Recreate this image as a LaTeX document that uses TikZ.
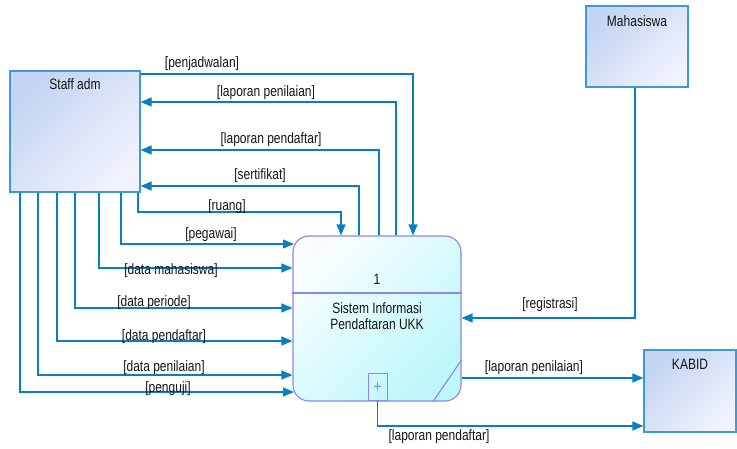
\documentclass[tikz,border=0pt]{standalone}
\usepackage{fontspec}
\setmainfont{Liberation Sans}[FakeStretch=0.8]
\usetikzlibrary{arrows.meta}
\definecolor{flowc}{HTML}{0A7EC2}
\definecolor{entborder}{HTML}{3C9AD6}
\definecolor{entA}{HTML}{C4D4F2}
\definecolor{entB}{HTML}{F0F2FD}
\definecolor{procborder}{HTML}{8888F0}
\definecolor{procA}{HTML}{F8FEFF}
\definecolor{procB}{HTML}{BDF6FB}
\definecolor{txt}{HTML}{141414}
\tikzset{
  entity/.style={draw=entborder, line width=1.2pt, top color=entA, bottom color=entB, shading angle=45, inner sep=0pt},
  proc/.style={draw=procborder, line width=1.1pt, rounded corners=16pt, top color=procA, bottom color=procB, shading angle=45, inner sep=0pt, minimum width=168pt, minimum height=165pt},
  procline/.style={draw=procborder, line width=1.1pt},
  flow/.style={draw=flowc, line width=1.2pt, -{Triangle[length=11pt,width=9pt]}},
  lbl/.style={inner sep=0pt, font=\fontsize{15}{17}\selectfont, text=txt},
  ttl/.style={inner sep=0pt, font=\fontsize{15}{17}\selectfont, text=txt}
}
\begin{document}
\begin{tikzpicture}[x=1pt,y=-1pt]
\useasboundingbox (0,0) rectangle (737,449);
% entities
\node[entity, minimum width=130pt, minimum height=121pt] (staff) at (75,131.5) {};
\node[ttl] (staffT) at (75,84) {Staff adm};
\node[entity, minimum width=102pt, minimum height=81pt] (mhs) at (637,46.5) {};
\node[ttl] (mhsT) at (637,21) {Mahasiswa};
\node[entity, minimum width=92pt, minimum height=82pt] (kabid) at (690,391) {};
\node[ttl] (kabidT) at (690,364) {KABID};
% process
\node[proc] (proc) at (377,318.5) {};
\draw[procline] (proc.west |- 0,293) -- (proc.east |- 0,293);
\draw[procline] (proc.east |- 0,360) -- (433,0 |- proc.south);
\node[ttl] (pnum) at (377,279) {1};
\node[ttl, align=center] (ptxt) at (377,316.5) {Sistem Informasi\\[-1pt]Pendaftaran UKK};
\node[draw=procborder, line width=1pt, minimum width=19pt, minimum height=27pt, inner sep=0pt, anchor=south] (plus) at (377.5,401) {};
\node[inner sep=0pt, text=procborder, font=\fontsize{17}{17}\selectfont] (plusT) at (377.5,388) {+};
% flows at top
\draw[flow] (staff.east |- 0,74) -| (413,0 |- proc.north);
\draw[flow] (396,0 |- proc.north) |- (staff.east |- 0,102);
\draw[flow] (379,0 |- proc.north) |- (staff.east |- 0,150);
\draw[flow] (359,0 |- proc.north) |- (staff.east |- 0,186);
\coordinate (rb) at (138,212);
\draw[flow] (138,0 |- staff.south) -- (rb) -| (341,0 |- proc.north);
% flows from bottom of staff
\draw[flow] (121,0 |- staff.south) |- (294,244);
\draw[flow] (99,0 |- staff.south) |- (proc.west |- 0,268);
\draw[flow] (75,0 |- staff.south) |- (proc.west |- 0,308);
\draw[flow] (57,0 |- staff.south) |- (proc.west |- 0,341);
\draw[flow] (38,0 |- staff.south) |- (proc.west |- 0,375);
\draw[flow] (20,0 |- staff.south) |- (294,392);
% right side flows
\draw[flow] (635,0 |- mhs.south) |- (proc.east |- 0,318);
\draw[flow] (proc.east |- 0,378) -- (kabid.west |- 0,378);
\draw[flow] (plus.south) |- (kabid.west |- 0,426);
% labels
\node[lbl] (l1) at (202,64) {[penjadwalan]};
\node[lbl] (l2) at (266,93) {[laporan penilaian]};
\node[lbl] (l3) at (271,140) {[laporan pendaftar]};
\node[lbl] (l4) at (260,176) {[sertifikat]};
\node[lbl] (l5) at (227,207) {[ruang]};
\node[lbl] (l6) at (211,235) {[pegawai]};
\node[lbl] (l7) at (171,271) {[data mahasiswa]};
\node[lbl] (l8) at (154,303) {[data periode]};
\node[lbl] (l9) at (164,337) {[data pendaftar]};
\node[lbl] (l10) at (164,368) {[data penilaian]};
\node[lbl] (l11) at (168,389) {[penguji]};
\node[lbl] (l12) at (550,305) {[registrasi]};
\node[lbl] (l13) at (534,368) {[laporan penilaian]};
\node[lbl] (l14) at (439,437) {[laporan pendaftar]};
\end{tikzpicture}
\end{document}
